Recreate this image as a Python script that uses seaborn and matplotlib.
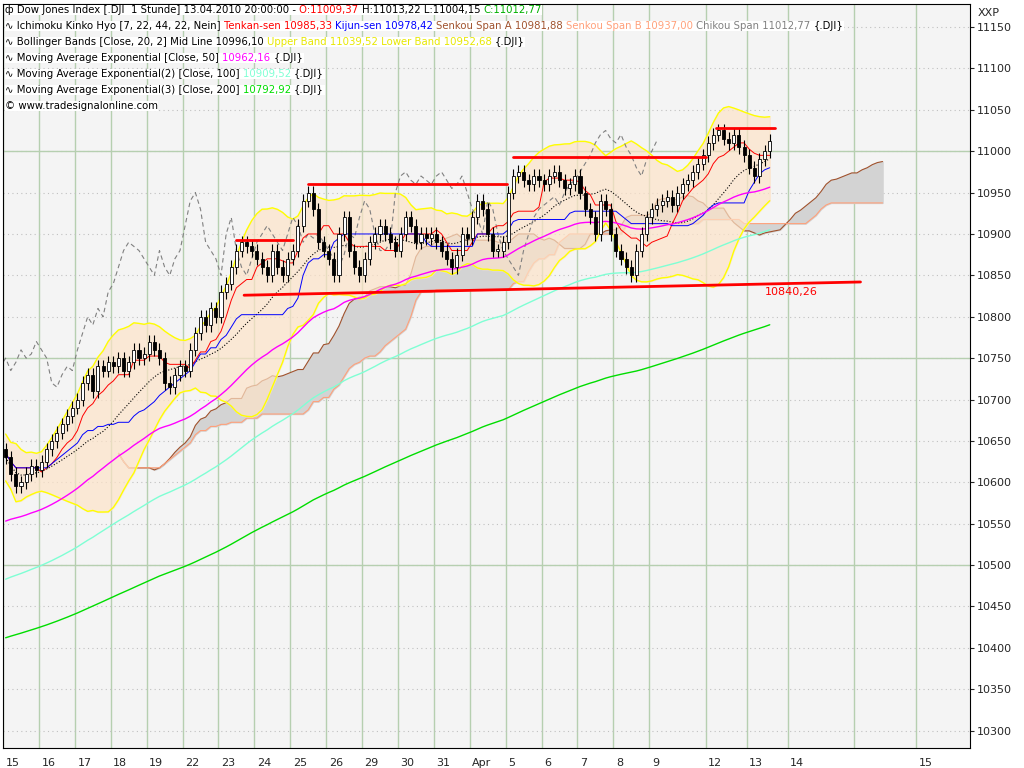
import matplotlib
matplotlib.use("Agg")
import matplotlib.pyplot as plt
import numpy as np
import pandas as pd
import seaborn as sns

sns.set_style("white")
plt.rcParams["font.family"] = ["DejaVu Sans"]

# hourly closes per trading day
days = ["15", "16", "17", "18", "19", "22", "23", "24", "25", "26", "29", "30", "31",
        "Apr", "5", "6", "7", "8", "9", "12", "13"]
closes = [
    [10630, 10610, 10595, 10600, 10610, 10620, 10615],
    [10625, 10640, 10650, 10660, 10670, 10680, 10690],
    [10700, 10720, 10730, 10710, 10740, 10735, 10745],
    [10740, 10750, 10735, 10745, 10760, 10750, 10755],
    [10770, 10760, 10750, 10720, 10715, 10730, 10740],
    [10735, 10760, 10780, 10800, 10790, 10810, 10800],
    [10830, 10840, 10860, 10880, 10890, 10885, 10880],
    [10870, 10860, 10850, 10880, 10860, 10850, 10870],
    [10880, 10910, 10940, 10950, 10930, 10890, 10880],
    [10870, 10850, 10900, 10920, 10880, 10860, 10850],
    [10870, 10890, 10900, 10910, 10900, 10890, 10880],
    [10900, 10920, 10910, 10890, 10900, 10895, 10900],
    [10890, 10880, 10870, 10860, 10875, 10900, 10895],
    [10920, 10940, 10930, 10900, 10880, 10880, 10890],
    [10950, 10970, 10975, 10965, 10960, 10970, 10965],
    [10960, 10970, 10975, 10965, 10955, 10960, 10970],
    [10950, 10930, 10920, 10900, 10940, 10930, 10900],
    [10880, 10870, 10860, 10850, 10880, 10900, 10920],
    [10930, 10935, 10940, 10945, 10935, 10950, 10960, 10965, 10975, 10985, 10995],
    [11010, 11020, 11025, 11015, 11010, 11020, 11005, 10995],
    [10980, 10970, 10990, 11000, 11012.77],
]
bars_per_day = [7] * 18 + [11, 8, 8]
future_days = ["14", "", "15"]
future_bars = [13, 12]
first_open = 10640
wick = 8
ema_start = {50: 10550, 100: 10480, 200: 10410}

# support / resistance lines: (x0, x1, y0, y1) in bar index
levels = [(45, 56, 10893, 10893), (59, 97.7, 10960, 10960), (99, 136.6, 10993, 10993),
          (138.5, 150, 11028, 11028), (46.5, 166.7, 10826, 10842)]

c = pd.Series([v for d in closes for v in d], dtype=float)
o = c.shift(1).fillna(first_open)
h = np.maximum(o, c) + wick
l = np.minimum(o, c) - wick
n = len(c)
x = np.arange(n)

def ema(s, p, start):
    a = 2 / (p + 1)
    out, v = [], start
    for val in s:
        v = v + a * (val - v)
        out.append(v)
    return np.array(out)

mid = c.rolling(20, min_periods=1).mean()
sd = c.rolling(20, min_periods=2).std().bfill()
upper, lower = mid + 2 * sd, mid - 2 * sd
hh, ll = pd.Series(h), pd.Series(l)
tenkan = (hh.rolling(7, min_periods=1).max() + ll.rolling(7, min_periods=1).min()) / 2
kijun = (hh.rolling(22, min_periods=1).max() + ll.rolling(22, min_periods=1).min()) / 2
spanA = (tenkan + kijun) / 2
spanB = (hh.rolling(44, min_periods=1).max() + ll.rolling(44, min_periods=1).min()) / 2
xs = x + 22

fig = plt.figure(figsize=(10.24, 7.68), dpi=100)
ax = fig.add_axes([0.003, 0.026, 0.944, 0.969])
ax.set_facecolor("#f4f4f4")

# day grid
starts = np.concatenate([[0], np.cumsum(bars_per_day + future_bars)])
for s in starts:
    ax.axvline(s - 0.5, color="#b6cfb0", lw=1, zorder=0)
for yv in range(10300, 11200, 50):
    ax.axhline(yv, color="#c0c0c0", lw=0.8, ls=(0, (1, 3)), zorder=0)
for yv in (10500, 10750, 11000):
    ax.axhline(yv, color="#b6cfb0", lw=1, zorder=0)

ax.fill_between(xs, spanA, spanB, color="#d3d3d3", zorder=1)
ax.plot(xs, spanA, color="#a0522d", lw=0.8, zorder=1)
ax.plot(xs, spanB, color="#ffa07a", lw=0.8, zorder=1)
ax.fill_between(x, upper, lower, color="#fde3c8", alpha=0.7, zorder=1)
ax.plot(x, upper, color="#ffff00", lw=1, zorder=2)
ax.plot(x, lower, color="#ffff00", lw=1, zorder=2)
ax.plot(x, mid, color="black", lw=0.8, ls=":", zorder=2)
ax.plot(x - 22, c, color="#808080", lw=0.8, ls=(0, (4, 3)), zorder=2)
ax.plot(x, tenkan, color="red", lw=0.7, zorder=2)
ax.plot(x, kijun, color="blue", lw=0.7, zorder=2)
for p, col in ((50, "#ff00ff"), (100, "#7fffd4"), (200, "#00dd00")):
    sns.lineplot(x=x, y=ema(c, p, ema_start[p]), color=col, lw=1, ax=ax, zorder=3)

# candles
ax.vlines(x, l, h, color="black", lw=0.8, zorder=4)
up = c >= o
ax.bar(x, (c - o).abs().clip(lower=1.5), bottom=np.minimum(o, c), width=0.6,
       color=np.where(up, "white", "black"), edgecolor="black", lw=0.6, zorder=5)

for x0, x1, y0, y1 in levels:
    ax.plot([x0, x1], [y0, y1], color="red", lw=2, zorder=6)
ax.text(148, 10836, "10840,26", color="red", fontsize=8, va="top", zorder=7)

ax.set_xlim(-0.5, 188)
ax.set_ylim(10279, 11178)
ax.yaxis.tick_right()
ax.set_yticks(range(10300, 11200, 50))
ax.tick_params(axis="y", labelsize=8, length=3, pad=2)
ax.set_xticks(list(starts[:len(days) + 2]) + [starts[-1]])
ax.set_xticklabels(days + future_days, fontsize=8, ha="left")
ax.tick_params(axis="x", length=6, pad=1)
ax.text(1.008, 0.995, "XXP", transform=ax.transAxes, fontsize=8, va="top")
for sp in ax.spines.values():
    sp.set_color("black")

# header legend
lines = [
    [("\u0444 Dow Jones Index [.DJI  1 Stunde] 13.04.2010 20:00:00 - ", "black"),
     ("O:11009,37 ", "red"), ("H:11013,22 L:11004,15 ", "black"), ("C:11012,77", "#00b000")],
    [("\u223f Ichimoku Kinko Hyo [7, 22, 44, 22, Nein] ", "black"), ("Tenkan-sen 10985,33 ", "red"),
     ("Kijun-sen 10978,42 ", "blue"), ("Senkou Span A 10981,88 ", "#a0522d"),
     ("Senkou Span B 10937,00 ", "#ffa07a"), ("Chikou Span 11012,77 ", "#808080"), ("{.DJI}", "black")],
    [("\u223f Bollinger Bands [Close, 20, 2] Mid Line 10996,10 ", "black"),
     ("Upper Band 11039,52 Lower Band 10952,68 ", "#e8e800"), ("{.DJI}", "black")],
    [("\u223f Moving Average Exponential [Close, 50] ", "black"), ("10962,16 ", "#ff00ff"), ("{.DJI}", "black")],
    [("\u223f Moving Average Exponential(2) [Close, 100] ", "black"), ("10909,52 ", "#7fffd4"), ("{.DJI}", "black")],
    [("\u223f Moving Average Exponential(3) [Close, 200] ", "black"), ("10792,92 ", "#00dd00"), ("{.DJI}", "black")],
    [("\u00a9 www.tradesignalonline.com", "black")],
]
fig.canvas.draw()
r = fig.canvas.get_renderer()
for i, parts in enumerate(lines):
    xp = 5
    yp = 768 - 10 - i * 16
    for txt, col in parts:
        t = fig.text(xp / 1024, yp / 768, txt, color=col, fontsize=7.3, va="center",
                     bbox=dict(facecolor="white", edgecolor="none", pad=0.3))
        xp += t.get_window_extent(r).width

fig.savefig("out.png", dpi=100)
